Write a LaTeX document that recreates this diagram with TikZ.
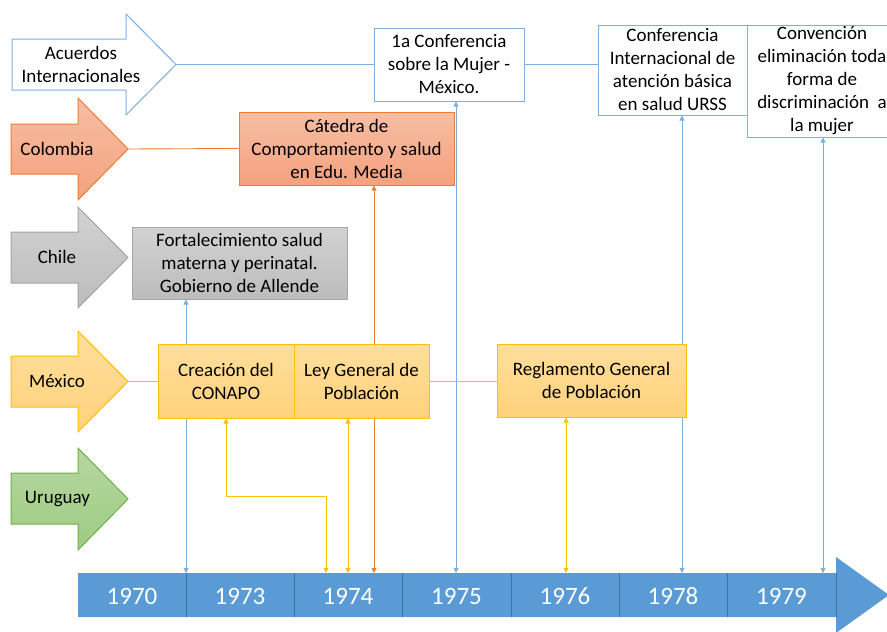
\documentclass[tikz,border=0pt]{standalone}
\usepackage{fontspec}
\setmainfont{Carlito}
\usetikzlibrary{arrows.meta}
\definecolor{blu}{HTML}{5B9BD5}
\definecolor{bluL}{HTML}{7EB0DE}
\definecolor{bluD}{HTML}{41719C}
\definecolor{org}{HTML}{ED7D31}
\definecolor{orgT}{HTML}{F7BEA4}
\definecolor{orgB}{HTML}{F4A17E}
\definecolor{gld}{HTML}{FFC000}
\definecolor{gldT}{HTML}{FFDE9C}
\definecolor{gldB}{HTML}{FFD27C}
\definecolor{grn}{HTML}{70AD47}
\definecolor{grnT}{HTML}{B6D7A1}
\definecolor{grnB}{HTML}{9ECB83}
\definecolor{gry}{HTML}{A5A5A5}
\definecolor{gryT}{HTML}{D2D2D2}
\definecolor{gryB}{HTML}{BCBCBC}
\begin{document}
\begin{tikzpicture}[x=1pt,y=-1pt,
  >={Triangle[width=5pt,length=5pt]},
  txt/.style={font=\fontsize{19}{23}\selectfont, align=center, inner sep=0pt, text=black},
  boxbase/.style={txt, line width=1pt},
  wbox/.style={boxbase, draw=bluL, fill=white},
  obox/.style={boxbase, draw=org, top color=orgT, bottom color=orgB},
  gbox/.style={boxbase, draw=gry, top color=gryT, bottom color=gryB},
  ybox/.style={boxbase, draw=gld, top color=gldT, bottom color=gldB},
  lk/.style={line width=0.9pt, <->},
  blink/.style={lk, draw=bluL},
  olink/.style={lk, draw=org},
  ylink/.style={lk, draw=gld},
  year/.style={font=\fontsize{25}{30}\selectfont, text=white, inner sep=0pt},
]
\useasboundingbox (0,0) rectangle (887,632);
\clip (0,0) rectangle (887,632);

% ---------- row arrows ----------
\path[draw=bluL, fill=white, line width=1pt]
  (12,39) -- (126,39) -- (126,14) -- (176,64.5) -- (126,115) -- (126,90) -- (12,90) -- cycle;
\path[draw=org, top color=orgT, bottom color=orgB, line width=1pt]
  (11,124) -- (78,124) -- (78,98) -- (128,149) -- (78,200) -- (78,174) -- (11,174) -- cycle;
\path[draw=gry, top color=gryT, bottom color=gryB, line width=1pt]
  (11,232) -- (78,232) -- (78,207) -- (128,257.5) -- (78,308) -- (78,283) -- (11,283) -- cycle;
\path[draw=gld, top color=gldT, bottom color=gldB, line width=1pt]
  (11,356) -- (78,356) -- (78,331) -- (128,381.5) -- (78,432) -- (78,407) -- (11,407) -- cycle;
\path[draw=grn, top color=grnT, bottom color=grnB, line width=1pt]
  (11,473) -- (78,473) -- (78,448) -- (128,499) -- (78,550) -- (78,524) -- (11,524) -- cycle;

\node[txt] (acuerdos) at (81,64.5) {Acuerdos\\Internacionales};
\node[txt] (colombia) at (57,149) {Colombia};
\node[txt] (chile) at (57,257) {Chile};
\node[txt] (mexico) at (57,381) {México};
\node[txt] (uruguay) at (57.5,499) {Uruguay};

\coordinate (acuTip) at (176,64.5);
\coordinate (colTip) at (128,149);
\coordinate (mexTip) at (128,381);

% ---------- timeline ----------
\fill[blu] (78,573) -- (836,573) -- (836,557) -- (889,595) -- (836,633) -- (836,617) -- (78,617) -- cycle;
\foreach \xx in {186,294,402,511,619,727,836}
  \draw[bluD, line width=1pt] (\xx,573) -- (\xx,617);
\node[year] (y1970) at (132,596) {1970};
\node[year] (y1973) at (240,596) {1973};
\node[year] (y1974) at (348,596) {1974};
\node[year] (y1975) at (456.5,596) {1975};
\node[year] (y1976) at (565,596) {1976};
\node[year] (y1978) at (673,596) {1978};
\node[year] (y1979) at (781.5,596) {1979};

\foreach \nm/\xx in {a/186,b/326,c/348,d/374,e/456,f/566,g/682,h/823}
  \coordinate (t\nm) at (\xx,573);
\coordinate (elbow) at (326,496);

% ---------- boxes (positions) ----------
\path
  (449,64.5) coordinate (pconf1)
  (672.5,70) coordinate (pconfI)
  (822,81) coordinate (pconv)
  (346.5,148.5) coordinate (pcat)
  (239.5,263) coordinate (pchile)
  (226,381) coordinate (pcrea)
  (361.5,381) coordinate (pley)
  (591.5,380.5) coordinate (pregl);

\node[boxbase, minimum width=150pt, minimum height=73pt] (conf1) at (pconf1) {};
\node[boxbase, minimum width=149pt, minimum height=90pt] (confI) at (pconfI) {};
\node[boxbase, minimum width=150pt, minimum height=112pt] (conv) at (pconv) {};
\node[boxbase, minimum width=215pt, minimum height=73pt] (catedra) at (pcat) {};
\node[boxbase, minimum width=215pt, minimum height=72pt] (chilebox) at (pchile) {};
\node[boxbase, minimum width=136pt, minimum height=74pt] (creacion) at (pcrea) {};
\node[boxbase, minimum width=135pt, minimum height=74pt] (ley) at (pley) {};
\node[boxbase, minimum width=189pt, minimum height=73pt] (regl) at (pregl) {};

% ---------- connectors ----------
\draw[draw=bluL, line width=0.9pt] (acuTip) -- (conf1.west);
\draw[draw=bluL, line width=0.9pt] (conf1.east) -- (confI.west |- conf1.east);
\draw[draw=org, line width=0.9pt] (colTip) -- (catedra.west);
\draw[draw=gld, line width=0.9pt] (mexTip) -- (creacion.west);
\draw[draw=gld, line width=0.9pt] (ley.east) -- (regl.west |- ley.east);

\draw[blink] (chilebox.south -| ta) -- (ta);
\draw[blink] (conf1.south -| te) -- (te);
\draw[blink] (confI.south -| tg) -- (tg);
\draw[blink] (conv.south -| th) -- (th);
\draw[olink] (catedra.south -| td) -- (td);
\draw[ylink] (creacion.south) |- (elbow) -- (tb);
\draw[ylink] (ley.south -| tc) -- (tc);
\draw[ylink] (regl.south -| tf) -- (tf);

% ---------- visible boxes ----------
\node[wbox, minimum width=150pt, minimum height=73pt] at (pconf1)
  {1a Conferencia\\sobre la Mujer -\\México.};
\node[wbox, minimum width=149pt, minimum height=90pt] at (pconfI)
  {Conferencia\\Internacional de\\atención básica\\en salud URSS};
\node[wbox, minimum width=150pt, minimum height=112pt] at (pconv)
  {Convención\\eliminación toda\\forma de\\discriminación~ a\\la mujer};
\node[obox, minimum width=215pt, minimum height=73pt] at (pcat)
  {Cátedra de\\Comportamiento y salud\\en Edu. Media};
\node[gbox, minimum width=215pt, minimum height=72pt] at (pchile)
  {Fortalecimiento salud\\materna y perinatal.\\Gobierno de Allende};
\node[ybox, minimum width=136pt, minimum height=74pt] at (pcrea)
  {Creación del\\CONAPO};
\node[ybox, minimum width=135pt, minimum height=74pt] at (pley)
  {Ley General de\\Población};
\node[ybox, minimum width=189pt, minimum height=73pt] at (pregl)
  {Reglamento General\\de Población};
\end{tikzpicture}
\end{document}
